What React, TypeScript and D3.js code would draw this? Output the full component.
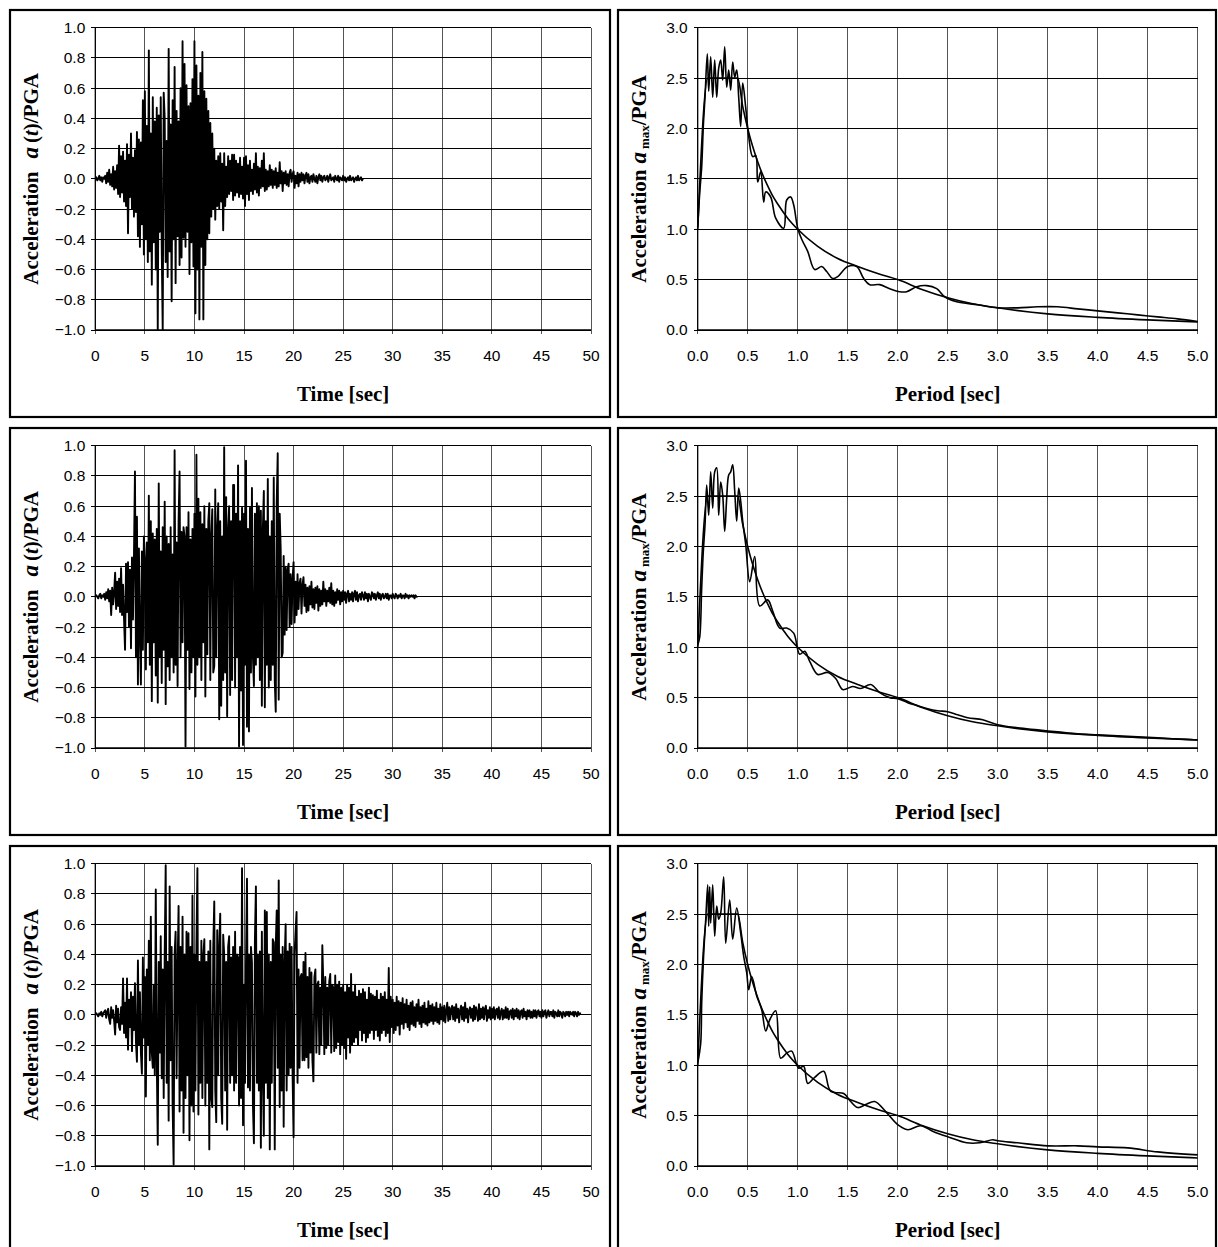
import React from 'react';
import * as d3 from 'd3';

const W = 1218;
const H = 1247;

// sample interval of the accelerograms [sec]
const accelDt = 0.1;

// accelerogram 1, a(t)/PGA, every 0.1 sec
const accel1 = [
  0.00, 0.01, -0.01, 0.00, 0.02, -0.01, 0.01, -0.02, 0.01, 0.00,
  0.02, -0.03, 0.04, -0.02, 0.06, -0.04, 0.03, -0.05, 0.08, -0.07,
  0.05, -0.06, 0.09, -0.10, 0.22, -0.12, 0.15, -0.09, 0.18, -0.15,
  0.12, -0.18, 0.23, -0.36, 0.16, -0.12, 0.30, -0.20, 0.14, -0.25,
  0.19, -0.22, 0.31, -0.38, 0.26, -0.45, 0.24, -0.30, 0.52, -0.50,
  0.58, -0.40, 0.35, -0.55, 0.85, -0.48, 0.30, -0.70, 0.54, -0.42,
  0.38, -0.60, 0.47, -1.00, 0.42, -0.35, 0.54, -0.45, -1.00, 0.57,
  0.40, -0.55, 0.25, -0.65, 0.86, -0.48, 0.36, -0.81, 0.52, -0.40,
  0.74, -0.69, 0.45, -0.38, 0.38, -0.57, 0.60, -0.52, 0.91, -0.39,
  0.76, -0.45, 0.62, -0.35, 0.48, -0.63, 0.50, -0.42, 0.66, -0.58,
  0.91, -0.89, 0.75, -0.60, 0.55, -0.93, 0.70, -0.45, 0.84, -0.93,
  0.58, -0.57, 0.53, -0.40, 0.45, -0.36, 0.37, -0.25, 0.30, -0.20,
  0.20, -0.27, 0.12, -0.18, 0.15, -0.20, 0.17, -0.15, 0.10, -0.34,
  0.17, -0.18, 0.08, -0.12, 0.15, -0.10, 0.12, -0.08, 0.16, -0.14,
  0.16, -0.11, 0.12, -0.09, 0.10, -0.12, 0.14, -0.10, 0.08, -0.13,
  0.14, -0.18, 0.15, -0.10, 0.09, -0.14, 0.12, -0.08, 0.06, -0.10,
  0.10, -0.07, 0.17, -0.09, 0.08, -0.11, 0.07, -0.06, 0.12, -0.05,
  0.17, -0.08, 0.06, -0.07, 0.05, -0.05, 0.09, -0.04, 0.06, -0.06,
  0.05, -0.04, 0.07, -0.06, 0.04, -0.05, 0.11, -0.03, 0.05, -0.08,
  0.04, -0.03, 0.05, -0.04, 0.03, -0.05, 0.04, 0.06, -0.02, 0.03,
  0.05, -0.06, 0.02, -0.03, 0.04, -0.05, 0.03, -0.02, 0.04, -0.01,
  0.03, -0.03, 0.02, 0.04, -0.02, 0.03, -0.03, 0.01, 0.02, -0.02,
  0.03, 0.00, -0.02, 0.02, -0.03, 0.01, 0.03, -0.01, 0.02, -0.02,
  0.01, 0.02, -0.01, 0.00, 0.02, -0.02, 0.01, 0.03, -0.01, 0.00,
  0.01, -0.02, 0.02, 0.00, -0.01, 0.02, -0.02, 0.01, 0.00, -0.01,
  0.02, -0.01, 0.01, -0.02, 0.00, 0.01, -0.01, 0.02, -0.01, 0.00,
  0.01, -0.02, 0.00, 0.01, -0.01, 0.02, -0.01, 0.00, 0.01, -0.01, 0.00,
];

// accelerogram 2
const accel2 = [
  0.00, 0.01, 0.00, -0.01, 0.01, 0.02, -0.01, 0.01, 0.00, 0.02,
  -0.02, 0.03, -0.01, 0.05, -0.03, 0.04, -0.12, 0.06, -0.05, 0.03,
  0.16, -0.08, 0.10, -0.06, 0.12, -0.10, 0.19, -0.12, 0.08, -0.15,
  -0.35, 0.22, -0.10, 0.23, -0.20, 0.18, -0.34, 0.26, -0.15, 0.27,
  0.83, -0.40, 0.53, -0.58, 0.32, -0.25, -0.58, 0.30, -0.35, 0.40,
  0.25, -0.48, 0.36, -0.30, 0.67, -0.45, 0.50, -0.69, 0.42, -0.30,
  0.38, -0.52, 0.45, -0.70, 0.75, -0.40, 0.30, -0.57, 0.46, -0.35,
  0.63, -0.71, 0.40, -0.46, 0.35, -0.55, 0.46, -0.40, 0.28, -0.50,
  0.97, -0.45, 0.36, -0.59, 0.50, 0.83, -0.40, 0.43, -0.30, 0.46,
  0.40, -0.99, 0.46, -0.35, 0.56, -0.61, 0.38, -0.50, 0.45, -0.40,
  0.55, -0.66, 0.94, -0.45, 0.65, -0.40, 0.56, -0.55, 0.48, -0.30,
  0.60, -0.66, 0.45, -0.38, 0.50, 0.62, -0.55, 0.40, 0.58, -0.50,
  -0.46, 0.71, -0.40, 0.45, 0.62, -0.81, 0.50, -0.72, 0.40, -0.55,
  0.99, -0.50, 0.66, -0.79, 0.45, 0.60, -0.65, 0.50, -0.55, 0.74,
  0.74, -0.60, 0.55, -0.40, 0.87, -0.99, 0.50, -0.62, 0.59, -0.98,
  0.55, -0.45, 0.90, -0.86, 0.45, -0.89, 0.59, -0.50, 0.72, -0.40,
  -0.59, 0.55, -0.45, 0.62, -0.40, 0.60, -0.55, 0.57, -0.72, 0.45,
  0.70, -0.73, 0.50, -0.45, 0.78, -0.60, 0.40, -0.55, 0.50, -0.45,
  0.79, -0.55, -0.76, 0.62, 0.95, -0.68, 0.55, 0.32, -0.40, -0.37,
  0.27, -0.25, 0.20, -0.22, 0.18, 0.22, -0.20, 0.15, -0.18, 0.12,
  0.23, -0.17, 0.10, -0.12, 0.15, -0.08, 0.09, 0.12, -0.11, 0.08,
  0.13, -0.06, 0.08, -0.10, 0.06, -0.09, 0.07, -0.05, 0.10, -0.07,
  0.05, -0.08, 0.06, -0.04, 0.07, -0.09, 0.05, -0.06, 0.04, -0.05,
  0.10, -0.03, 0.05, -0.06, 0.04, -0.03, 0.06, -0.04, 0.09, -0.05,
  0.04, -0.06, 0.03, -0.04, 0.05, -0.02, 0.04, -0.05, 0.03, -0.03,
  0.04, -0.02, 0.03, -0.04, 0.02, 0.04, -0.03, 0.02, -0.02, 0.03,
  -0.03, 0.02, 0.04, -0.02, 0.03, -0.03, 0.01, 0.02, -0.02, 0.03,
  0.01, -0.02, 0.03, -0.01, 0.02, -0.03, 0.02, 0.00, -0.02, 0.03,
  0.02, -0.01, 0.02, -0.02, 0.01, 0.03, -0.01, 0.02, -0.02, 0.01,
  0.02, -0.01, 0.00, 0.02, -0.01, 0.02, -0.02, 0.01, 0.01, -0.01,
  0.02, 0.00, -0.01, 0.02, 0.01, -0.01, 0.01, 0.00, 0.02, -0.01,
  0.01, 0.01, -0.01, 0.02, 0.00, 0.01, -0.01, 0.01, 0.00, 0.01,
  0.00, 0.01, -0.01, 0.01, 0.00, 0.00,
];

// accelerogram 3
const accel3 = [
  0.00, 0.01, 0.00, -0.01, 0.01, 0.00, 0.02, -0.01, 0.01, 0.02,
  0.03, -0.02, 0.02, 0.04, -0.03, -0.06, 0.05, -0.02, 0.03, -0.04,
  -0.13, 0.06, -0.05, 0.04, -0.08, -0.10, 0.05, -0.06, 0.24, -0.12,
  0.08, -0.15, 0.24, -0.23, 0.10, -0.08, 0.15, -0.24, 0.12, -0.10,
  0.21, -0.18, -0.31, 0.36, -0.20, 0.15, -0.25, -0.39, 0.38, -0.15,
  0.25, -0.54, 0.30, -0.20, 0.49, -0.30, 0.65, -0.25, -0.35, 0.20,
  -0.40, 0.83, -0.30, -0.86, 0.35, -0.25, 0.52, -0.42, 0.30, -0.55,
  0.40, 0.99, -0.45, 0.35, -0.70, 0.85, -0.30, 0.45, -0.60, -0.99,
  0.40, 0.55, -0.42, 0.30, 0.72, -0.64, 0.45, -0.50, 0.65, -0.78,
  0.40, -0.55, 0.55, -0.40, 0.54, -0.83, 0.45, -0.60, 0.79, -0.64,
  0.40, -0.50, 0.45, 0.97, -0.66, 0.35, -0.45, 0.49, -0.55, 0.40,
  0.50, -0.60, 0.35, -0.45, 0.42, -0.89, 0.49, -0.55, -0.61, 0.45,
  0.75, -0.50, -0.71, 0.56, -0.40, 0.45, 0.67, -0.55, -0.72, 0.53,
  0.40, -0.50, 0.35, -0.76, 0.45, 0.52, -0.45, 0.38, -0.40, 0.45,
  -0.50, 0.55, -0.45, 0.40, 0.38, -0.60, 0.45, -0.55, 0.97, -0.73,
  0.20, -0.45, 0.35, 0.90, -0.48, 0.40, -0.50, 0.45, 0.35, -0.60,
  -0.85, 0.50, 0.85, -0.45, 0.40, -0.50, 0.42, -0.88, 0.55, -0.40,
  -0.80, 0.69, -0.45, 0.68, -0.55, 0.40, -0.89, 0.35, -0.45, 0.50,
  0.48, -0.89, 0.45, 0.69, -0.35, 0.89, -0.61, 0.40, -0.50, 0.45,
  -0.74, 0.35, 0.60, -0.50, 0.42, -0.40, 0.47, -0.35, 0.45, -0.40,
  -0.81, 0.40, 0.55, 0.68, -0.45, 0.30, -0.35, 0.25, 0.27, -0.30,
  0.35, -0.30, 0.41, -0.28, 0.25, -0.35, 0.31, -0.25, 0.28, -0.30,
  -0.44, 0.25, 0.30, -0.25, 0.20, 0.22, -0.26, 0.18, -0.20, 0.46,
  0.20, -0.26, 0.25, -0.22, 0.18, -0.20, 0.22, 0.27, -0.25, 0.20,
  0.18, -0.24, 0.26, -0.22, 0.20, -0.18, 0.22, -0.26, 0.18, -0.20,
  0.20, -0.22, 0.15, -0.29, 0.20, -0.15, 0.18, -0.25, 0.27, -0.20,
  0.15, -0.18, 0.20, -0.15, 0.12, -0.20, 0.16, -0.10, 0.14, -0.17,
  0.17, -0.12, 0.15, -0.18, 0.10, -0.15, 0.18, -0.12, 0.14, -0.10,
  0.13, -0.16, 0.12, -0.10, 0.16, -0.14, 0.10, -0.17, 0.14, -0.12,
  0.12, -0.10, 0.15, -0.14, 0.10, -0.12, 0.31, -0.18, 0.12, -0.08,
  0.10, -0.12, 0.08, -0.10, 0.12, -0.07, 0.09, -0.13, 0.08, -0.06,
  0.11, -0.09, 0.07, -0.05, 0.10, -0.08, 0.06, -0.10, 0.08, -0.06,
  0.09, -0.07, 0.05, -0.08, 0.07, -0.04, 0.10, -0.06, 0.05, -0.08,
  0.06, -0.05, 0.08, -0.06, 0.04, -0.07, 0.09, -0.05, 0.06, -0.04,
  0.07, -0.06, 0.05, -0.04, 0.08, -0.05, 0.04, -0.06, 0.07, -0.03,
  0.05, -0.04, 0.06, -0.05, 0.03, 0.08, -0.04, 0.05, -0.03, 0.04,
  0.06, -0.03, 0.05, -0.04, 0.07, -0.02, 0.04, -0.05, 0.03, 0.06,
  -0.03, 0.05, -0.04, 0.08, -0.02, 0.04, -0.05, 0.03, 0.05, -0.02,
  0.04, -0.04, 0.06, -0.03, 0.05, 0.02, -0.04, 0.07, -0.03, 0.04,
  -0.02, 0.05, -0.03, 0.04, 0.06, -0.04, 0.03, -0.02, 0.05, -0.03,
  0.04, -0.02, 0.05, -0.03, 0.03, 0.04, -0.02, 0.05, -0.03, 0.02,
  0.04, -0.03, 0.03, -0.02, 0.05, -0.02, 0.04, -0.03, 0.02, 0.03,
  -0.02, 0.04, -0.03, 0.03, -0.01, 0.04, -0.02, 0.03, -0.03, 0.02,
  0.03, -0.02, 0.04, -0.01, 0.02, -0.03, 0.03, -0.01, 0.03, -0.02,
  0.02, -0.02, 0.03, -0.01, 0.03, -0.02, 0.02, 0.03, -0.01, 0.02,
  -0.02, 0.03, -0.01, 0.02, 0.03, -0.02, 0.01, 0.03, -0.01, 0.02,
  0.02, -0.01, 0.03, -0.02, 0.02, 0.01, -0.01, 0.03, -0.01, 0.02,
  0.01, -0.02, 0.02, 0.01, -0.01, 0.02, 0.00, 0.02, -0.01, 0.02,
  0.01, 0.00, 0.02, -0.01, 0.02, 0.01, -0.01, 0.02, 0.00, 0.01,
  0.01,
];

// smooth target spectrum (same in all three rows)
const targetPeriods = [0, 0.1, 0.4, 0.45, 0.5, 0.55, 0.6, 0.65, 0.7, 0.75, 0.8, 0.9, 1.0, 1.2, 1.4, 1.6, 1.8, 2.0, 2.25, 2.5, 2.75, 3.0, 3.5, 4.0, 4.5, 5.0];
const targetSa = [1.0, 2.5, 2.5, 2.22, 2.0, 1.82, 1.67, 1.54, 1.43, 1.33, 1.25, 1.11, 1.0, 0.83, 0.71, 0.63, 0.56, 0.5, 0.4, 0.32, 0.26, 0.22, 0.16, 0.125, 0.1, 0.08];

// response spectra of the three accelerograms
const spec1Periods = [0, 0.02, 0.04, 0.056, 0.073, 0.096, 0.11, 0.13, 0.15, 0.17, 0.19, 0.21, 0.23, 0.25, 0.27, 0.29, 0.31, 0.33, 0.35, 0.37, 0.39, 0.41, 0.43, 0.45, 0.48, 0.51, 0.55, 0.58, 0.6, 0.63, 0.66, 0.68, 0.73, 0.78, 0.86, 0.89, 0.93, 0.96, 1.0, 1.04, 1.1, 1.17, 1.24, 1.29, 1.35, 1.4, 1.5, 1.59, 1.66, 1.72, 1.82, 1.92, 2.02, 2.09, 2.19, 2.29, 2.39, 2.47, 2.59, 2.8, 3.0, 3.2, 3.4, 3.6, 3.8, 4.0, 4.2, 4.4, 4.6, 4.8, 5.0];
const spec1Sa = [1.02, 1.36, 1.62, 2.02, 2.31, 2.74, 2.37, 2.71, 2.31, 2.68, 2.31, 2.6, 2.68, 2.48, 2.81, 2.41, 2.58, 2.38, 2.66, 2.51, 2.58, 2.31, 2.02, 2.45, 2.21, 1.92, 1.72, 1.73, 1.47, 1.57, 1.27, 1.37, 1.32, 1.11, 1.01, 1.29, 1.32, 1.24, 1.01, 0.9, 0.78, 0.6, 0.63, 0.58, 0.51, 0.53, 0.63, 0.63, 0.51, 0.45, 0.45, 0.41, 0.38, 0.38, 0.43, 0.44, 0.41, 0.33, 0.28, 0.25, 0.22, 0.22, 0.23, 0.23, 0.21, 0.19, 0.17, 0.15, 0.13, 0.11, 0.085];

const spec2Periods = [0, 0.02, 0.04, 0.056, 0.073, 0.09, 0.11, 0.13, 0.15, 0.17, 0.19, 0.21, 0.23, 0.25, 0.27, 0.29, 0.31, 0.33, 0.35, 0.37, 0.39, 0.41, 0.43, 0.45, 0.48, 0.52, 0.57, 0.62, 0.7, 0.75, 0.82, 0.89, 0.96, 1.02, 1.07, 1.12, 1.2, 1.3, 1.38, 1.45, 1.55, 1.63, 1.73, 1.82, 1.92, 2.0, 2.1, 2.2, 2.3, 2.4, 2.5, 2.6, 2.7, 2.85, 3.0, 3.2, 3.4, 3.6, 3.8, 4.0, 4.2, 4.4, 4.6, 4.8, 5.0];
const spec2Sa = [1.02, 1.1, 1.59, 1.95, 2.21, 2.61, 2.31, 2.74, 2.38, 2.74, 2.78, 2.31, 2.64, 2.51, 2.15, 2.48, 2.71, 2.74, 2.81, 2.55, 2.25, 2.58, 2.45, 2.25, 2.02, 1.65, 1.9, 1.41, 1.47, 1.36, 1.19, 1.19, 1.14, 0.93, 0.96, 0.86, 0.73, 0.75, 0.69, 0.58, 0.61, 0.59, 0.63, 0.55, 0.5, 0.49, 0.45, 0.42, 0.39, 0.37, 0.36, 0.33, 0.3, 0.28, 0.23, 0.2, 0.18, 0.16, 0.14, 0.13, 0.12, 0.11, 0.1, 0.09, 0.08];

const spec3Periods = [0, 0.03, 0.04, 0.06, 0.08, 0.1, 0.11, 0.12, 0.13, 0.15, 0.17, 0.19, 0.21, 0.23, 0.26, 0.28, 0.32, 0.35, 0.39, 0.43, 0.46, 0.49, 0.51, 0.54, 0.59, 0.64, 0.68, 0.72, 0.78, 0.83, 0.89, 0.94, 1.01, 1.06, 1.1, 1.17, 1.26, 1.33, 1.46, 1.53, 1.6, 1.68, 1.77, 1.88, 2.0, 2.1, 2.23, 2.36, 2.5, 2.69, 2.82, 2.95, 3.0, 3.2, 3.5, 3.8, 4.0, 4.3, 4.6, 5.0];
const spec3Sa = [1.02, 1.22, 1.62, 2.11, 2.44, 2.79, 2.38, 2.77, 2.41, 2.79, 2.28, 2.58, 2.45, 2.51, 2.87, 2.21, 2.64, 2.25, 2.56, 2.31, 2.08, 1.92, 1.75, 1.88, 1.69, 1.55, 1.34, 1.45, 1.54, 1.07, 1.12, 1.14, 0.97, 0.99, 0.82, 0.88, 0.94, 0.74, 0.72, 0.64, 0.58, 0.61, 0.64, 0.54, 0.41, 0.36, 0.4, 0.34, 0.29, 0.23, 0.23, 0.26, 0.25, 0.23, 0.2, 0.2, 0.19, 0.18, 0.14, 0.11];

// tick labels
const timeTicks = [0, 5, 10, 15, 20, 25, 30, 35, 40, 45, 50];
const accelTicks = [-1.0, -0.8, -0.6, -0.4, -0.2, 0.0, 0.2, 0.4, 0.6, 0.8, 1.0];
const periodTicks = [0, 0.5, 1.0, 1.5, 2.0, 2.5, 3.0, 3.5, 4.0, 4.5, 5.0];
const spectrumTicks = [0, 0.5, 1.0, 1.5, 2.0, 2.5, 3.0];

const rowTops = [10, 428, 846];
const accelSeries = [accel1, accel2, accel3];
const specSeries = [
  { periods: spec1Periods, sa: spec1Sa },
  { periods: spec2Periods, sa: spec2Sa },
  { periods: spec3Periods, sa: spec3Sa },
];

const PANEL_H = 407;
const PLOT_TOP = 17.7;
const PLOT_BOTTOM = 320;
const tickFont = '"Liberation Sans", Arial, sans-serif';
const titleFont = '"Liberation Serif", "Times New Roman", serif';
const fmt1 = d3.format('.1f');

function Frame({ left, top, width }) {
  return (
    <rect x={left} y={top} width={width} height={PANEL_H} fill="none" stroke="#000" strokeWidth={2.2} />
  );
}

function Grid({ x, y, xTicks, yTicks, xFmt, yFmt }) {
  const [x0, x1] = x.range();
  const [y0, y1] = y.range(); // y0 bottom, y1 top
  return (
    <g>
      {xTicks.map((t, i) => (
        <line key={'vx' + i} x1={x(t)} x2={x(t)} y1={y1} y2={y0 + 4} stroke="#555" strokeWidth={1} shapeRendering="crispEdges" />
      ))}
      {yTicks.map((t, i) => (
        <line key={'hy' + i} x1={x0 - 4} x2={x1} y1={y(t)} y2={y(t)} stroke="#000" strokeWidth={1} shapeRendering="crispEdges" />
      ))}
      <line x1={x0} x2={x0} y1={y1} y2={y0} stroke="#000" strokeWidth={1.3} />
      <line x1={x0} x2={x1} y1={y0} y2={y0} stroke="#000" strokeWidth={1.3} />
      {xTicks.map((t, i) => (
        <text key={'tx' + i} x={x(t)} y={y0 + 31} textAnchor="middle" fontFamily={tickFont} fontSize={15.5}>
          {xFmt(t)}
        </text>
      ))}
      {yTicks.map((t, i) => (
        <text key={'ty' + i} x={x0 - 10} y={y(t)} dy="0.35em" textAnchor="end" fontFamily={tickFont} fontSize={15.5}>
          {yFmt(t)}
        </text>
      ))}
    </g>
  );
}

function AccelPanel({ top, values }) {
  const x = d3.scaleLinear().domain([0, 50]).range([95.3, 591]);
  const y = d3.scaleLinear().domain([-1, 1]).range([top + PLOT_BOTTOM, top + PLOT_TOP]);
  const line = d3.line<number>().x((d, i) => x(i * accelDt)).y(d => y(d));
  const cy = top + (PLOT_TOP + PLOT_BOTTOM) / 2;
  return (
    <g>
      <Frame left={10} top={top} width={600} />
      <Grid x={x} y={y} xTicks={timeTicks} yTicks={accelTicks} xFmt={d => String(d)} yFmt={fmt1} />
      <path d={line(values)} fill="none" stroke="#000" strokeWidth={1.9} strokeLinejoin="round" />
      <text x={(95.3 + 591) / 2} y={top + 391} textAnchor="middle" fontFamily={titleFont} fontWeight="bold" fontSize={21}>
        Time  [sec]
      </text>
      <text transform={`translate(38,${cy}) rotate(-90)`} textAnchor="middle" fontFamily={titleFont} fontWeight="bold" fontSize={21}>
        Acceleration
        <tspan dx={13} fontStyle="italic" fontSize={23}>a</tspan>
        <tspan dx={4}>(</tspan>
        <tspan fontStyle="italic">t</tspan>
        <tspan>)/PGA</tspan>
      </text>
    </g>
  );
}

function SpectrumPanel({ top, periods, sa }) {
  const x = d3.scaleLinear().domain([0, 5]).range([697.7, 1197.7]);
  const y = d3.scaleLinear().domain([0, 3]).range([top + PLOT_BOTTOM, top + PLOT_TOP]);
  const target = targetPeriods.map((t, i) => [t, targetSa[i]] as [number, number]);
  const actual = periods.map((t, i) => [t, sa[i]] as [number, number]);
  const smooth = d3.line<[number, number]>().x(d => x(d[0])).y(d => y(d[1])).curve(d3.curveMonotoneX);
  const wiggly = d3.line<[number, number]>().x(d => x(d[0])).y(d => y(d[1])).curve(d3.curveCatmullRom.alpha(0.5));
  const cy = top + (PLOT_TOP + PLOT_BOTTOM) / 2;
  return (
    <g>
      <Frame left={618} top={top} width={598} />
      <Grid x={x} y={y} xTicks={periodTicks} yTicks={spectrumTicks} xFmt={fmt1} yFmt={fmt1} />
      <path d={smooth(target)} fill="none" stroke="#000" strokeWidth={1.6} strokeLinejoin="round" />
      <path d={wiggly(actual)} fill="none" stroke="#000" strokeWidth={1.6} strokeLinejoin="round" />
      <text x={(697.7 + 1197.7) / 2} y={top + 391} textAnchor="middle" fontFamily={titleFont} fontWeight="bold" fontSize={21}>
        Period [sec]
      </text>
      <text transform={`translate(646,${cy}) rotate(-90)`} textAnchor="middle" fontFamily={titleFont} fontWeight="bold" fontSize={21}>
        Acceleration
        <tspan dx={6} fontStyle="italic" fontSize={23}>a</tspan>
        <tspan dx={3} dy={3} fontSize={13}>max</tspan>
        <tspan dy={-3}>/PGA</tspan>
      </text>
    </g>
  );
}

export default function App() {
  return (
    <svg width={W} height={H} style={{ position: 'absolute', left: 0, top: 0, background: '#fff' }}>
      <rect width={W} height={H} fill="#fff" />
      {rowTops.map((top, i) => (
        <g key={i}>
          <AccelPanel top={top} values={accelSeries[i]} />
          <SpectrumPanel top={top} periods={specSeries[i].periods} sa={specSeries[i].sa} />
        </g>
      ))}
    </svg>
  );
}
